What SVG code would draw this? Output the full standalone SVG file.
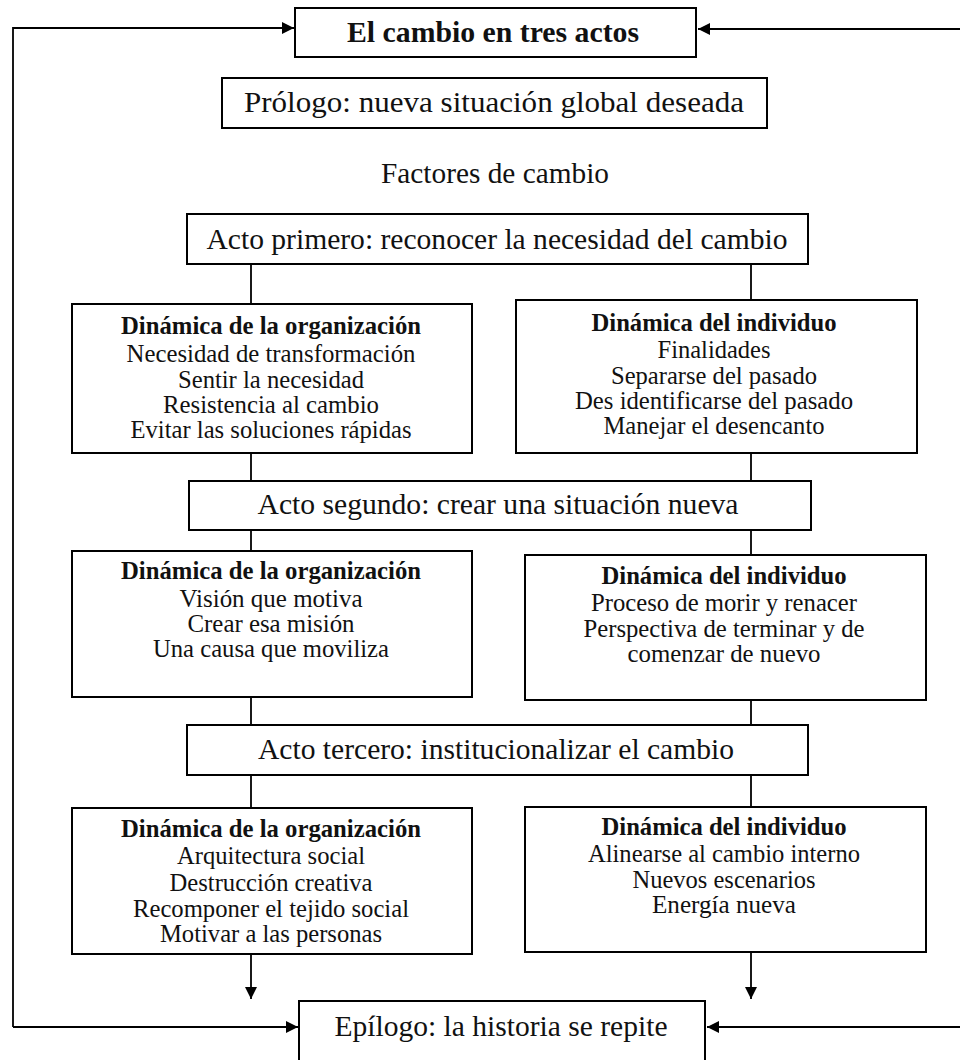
<svg xmlns="http://www.w3.org/2000/svg" width="960" height="1060" viewBox="0 0 960 1060">
<style>
.box{fill:#fff;stroke:#000;stroke-width:2}
.ln{fill:none;stroke:#000;stroke-width:1.8}
text{font-family:"Liberation Serif","Times New Roman",serif;fill:#111;text-anchor:middle}
.act{font-size:30px}
.big{font-size:29px}
.bt{font-size:25px}
.b{font-weight:bold}
</style>
<defs>
<marker id="ah" viewBox="0 0 12 12" refX="12" refY="6" markerWidth="12" markerHeight="12" markerUnits="userSpaceOnUse" orient="auto">
<path d="M0,0 L12,6 L0,12 Z" fill="#000"/>
</marker>
</defs>
<rect width="960" height="1060" fill="#fff"/>
<g id="connectors">
<polyline class="ln" points="13,1027 13,28 294,28" marker-end="url(#ah)"/>
<line class="ln" x1="960" y1="29" x2="698" y2="29" marker-end="url(#ah)"/>
<line class="ln" x1="13" y1="1027" x2="298" y2="1027" marker-end="url(#ah)"/>
<line class="ln" x1="960" y1="1027" x2="707" y2="1027" marker-end="url(#ah)"/>
<line class="ln" x1="251" y1="264" x2="251" y2="304"/>
<line class="ln" x1="751" y1="264" x2="751" y2="300"/>
<line class="ln" x1="251" y1="453" x2="251" y2="481"/>
<line class="ln" x1="751" y1="453" x2="751" y2="481"/>
<line class="ln" x1="251" y1="530" x2="251" y2="551"/>
<line class="ln" x1="751" y1="530" x2="751" y2="555"/>
<line class="ln" x1="251" y1="697" x2="251" y2="725"/>
<line class="ln" x1="751" y1="700" x2="751" y2="725"/>
<line class="ln" x1="251" y1="775" x2="251" y2="808"/>
<line class="ln" x1="751" y1="775" x2="751" y2="807"/>
<line class="ln" x1="251" y1="954" x2="251" y2="999" marker-end="url(#ah)"/>
<line class="ln" x1="751" y1="952" x2="751" y2="999" marker-end="url(#ah)"/>
</g>
<g id="title">
<rect class="box" x="295" y="8" width="401" height="49"/>
<text class="big b" x="493" y="42" textLength="292" lengthAdjust="spacingAndGlyphs">El cambio en tres actos</text>
</g>
<g id="prologo">
<rect class="box" x="222" y="78" width="545" height="50"/>
<text class="big" x="494" y="112" textLength="500" lengthAdjust="spacingAndGlyphs">Prólogo: nueva situación global deseada</text>
</g>
<g id="factores">
<text class="big" x="495" y="183" textLength="228" lengthAdjust="spacingAndGlyphs">Factores de cambio</text>
</g>
<g id="acto1">
<rect class="box" x="187" y="214" width="621" height="50"/>
<text class="act" x="497" y="249" textLength="581" lengthAdjust="spacingAndGlyphs">Acto primero: reconocer la necesidad del cambio</text>
</g>
<g id="org1">
<rect class="box" x="72" y="304" width="400" height="149"/>
<text class="bt b" x="271" y="334" textLength="300" lengthAdjust="spacingAndGlyphs">Dinámica de la organización</text>
<text class="bt" x="271" y="362" textLength="289" lengthAdjust="spacingAndGlyphs">Necesidad de transformación</text>
<text class="bt" x="271" y="388" textLength="186" lengthAdjust="spacingAndGlyphs">Sentir la necesidad</text>
<text class="bt" x="271" y="413" textLength="216" lengthAdjust="spacingAndGlyphs">Resistencia al cambio</text>
<text class="bt" x="271" y="438" textLength="281" lengthAdjust="spacingAndGlyphs">Evitar las soluciones rápidas</text>
</g>
<g id="ind1">
<rect class="box" x="516" y="300" width="401" height="153"/>
<text class="bt b" x="714" y="331" textLength="245" lengthAdjust="spacingAndGlyphs">Dinámica del individuo</text>
<text class="bt" x="714" y="358" textLength="113" lengthAdjust="spacingAndGlyphs">Finalidades</text>
<text class="bt" x="714" y="384" textLength="206" lengthAdjust="spacingAndGlyphs">Separarse del pasado</text>
<text class="bt" x="714" y="409" textLength="278" lengthAdjust="spacingAndGlyphs">Des identificarse del pasado</text>
<text class="bt" x="714" y="434" textLength="221" lengthAdjust="spacingAndGlyphs">Manejar el desencanto</text>
</g>
<g id="acto2">
<rect class="box" x="189" y="481" width="622" height="49"/>
<text class="act" x="498" y="514" textLength="481" lengthAdjust="spacingAndGlyphs">Acto segundo: crear una situación nueva</text>
</g>
<g id="org2">
<rect class="box" x="72" y="551" width="400" height="146"/>
<text class="bt b" x="271" y="579" textLength="300" lengthAdjust="spacingAndGlyphs">Dinámica de la organización</text>
<text class="bt" x="271" y="607" textLength="183" lengthAdjust="spacingAndGlyphs">Visión que motiva</text>
<text class="bt" x="271" y="632" textLength="167" lengthAdjust="spacingAndGlyphs">Crear esa misión</text>
<text class="bt" x="271" y="657" textLength="236" lengthAdjust="spacingAndGlyphs">Una causa que moviliza</text>
</g>
<g id="ind2">
<rect class="box" x="525" y="555" width="401" height="145"/>
<text class="bt b" x="724" y="584" textLength="245" lengthAdjust="spacingAndGlyphs">Dinámica del individuo</text>
<text class="bt" x="724" y="611" textLength="266" lengthAdjust="spacingAndGlyphs">Proceso de morir y renacer</text>
<text class="bt" x="724" y="637" textLength="281" lengthAdjust="spacingAndGlyphs">Perspectiva de terminar y de</text>
<text class="bt" x="724" y="662" textLength="193" lengthAdjust="spacingAndGlyphs">comenzar de nuevo</text>
</g>
<g id="acto3">
<rect class="box" x="187" y="725" width="621" height="50"/>
<text class="act" x="496" y="759" textLength="476" lengthAdjust="spacingAndGlyphs">Acto tercero: institucionalizar el cambio</text>
</g>
<g id="org3">
<rect class="box" x="72" y="808" width="400" height="146"/>
<text class="bt b" x="271" y="837" textLength="300" lengthAdjust="spacingAndGlyphs">Dinámica de la organización</text>
<text class="bt" x="271" y="864" textLength="188" lengthAdjust="spacingAndGlyphs">Arquitectura social</text>
<text class="bt" x="271" y="891" textLength="203" lengthAdjust="spacingAndGlyphs">Destrucción creativa</text>
<text class="bt" x="271" y="917" textLength="276" lengthAdjust="spacingAndGlyphs">Recomponer el tejido social</text>
<text class="bt" x="271" y="942" textLength="222" lengthAdjust="spacingAndGlyphs">Motivar a las personas</text>
</g>
<g id="ind3">
<rect class="box" x="525" y="807" width="401" height="145"/>
<text class="bt b" x="724" y="835" textLength="245" lengthAdjust="spacingAndGlyphs">Dinámica del individuo</text>
<text class="bt" x="724" y="862" textLength="272" lengthAdjust="spacingAndGlyphs">Alinearse al cambio interno</text>
<text class="bt" x="724" y="888" textLength="183" lengthAdjust="spacingAndGlyphs">Nuevos escenarios</text>
<text class="bt" x="724" y="913" textLength="144" lengthAdjust="spacingAndGlyphs">Energía nueva</text>
</g>
<g id="epilogo">
<rect class="box" x="299" y="1001" width="406" height="70"/>
<text class="act" x="501" y="1036" textLength="333" lengthAdjust="spacingAndGlyphs">Epílogo: la historia se repite</text>
</g>
</svg>
